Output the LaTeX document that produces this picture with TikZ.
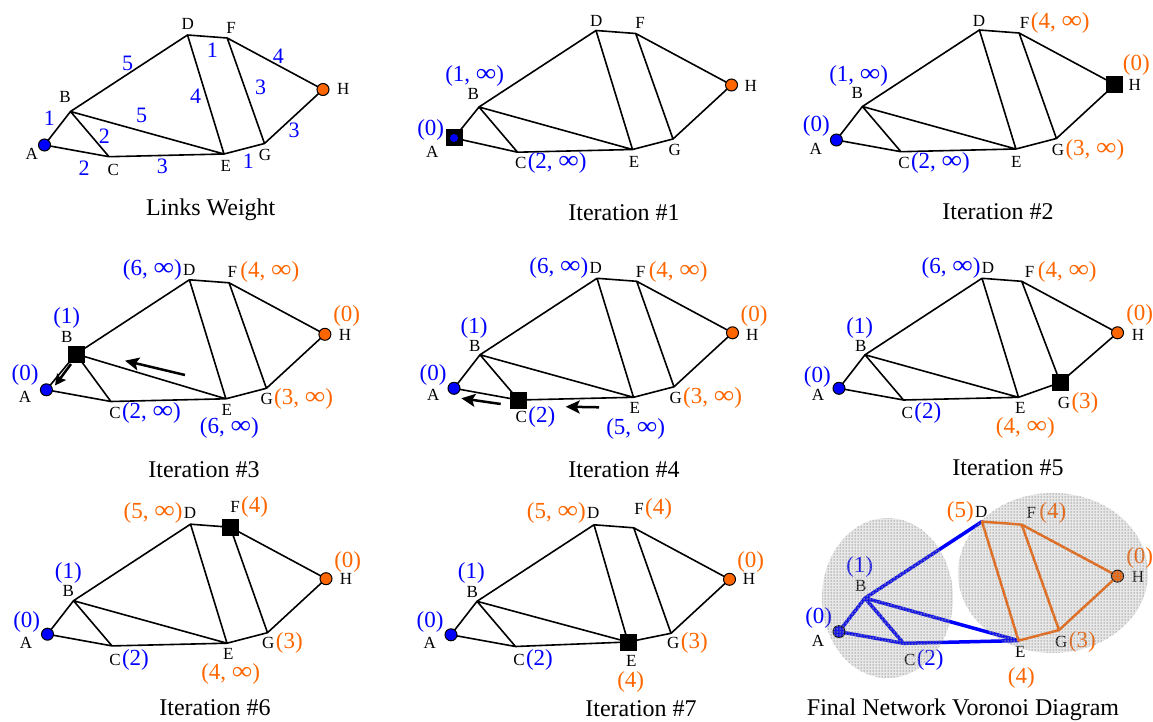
\documentclass[tikz,border=0pt]{standalone}
\usepackage{fontspec}
\setmainfont{Liberation Serif}
\usetikzlibrary{arrows.meta,patterns.meta,calc}
\definecolor{nblue}{RGB}{0,0,255}
\definecolor{norange}{RGB}{255,102,0}
\newcommand\infsym{\scalebox{1.25}[1.1]{∞}}
\newcommand\setgraph[3]{%
 \coordinate (#1A) at (#2,#3);
 \coordinate (#1B) at ($(#1A)+(26,-33.5)$);
 \coordinate (#1C) at ($(#1A)+(64.5,11.7)$);
 \coordinate (#1D) at ($(#1A)+(143,-110)$);
 \coordinate (#1E) at ($(#1A)+(179.5,9)$);
 \coordinate (#1F) at ($(#1A)+(182.7,-107)$);
 \coordinate (#1G) at ($(#1A)+(220,-1.5)$);
 \coordinate (#1H) at ($(#1A)+(278.5,-55.5)$);}
\newcommand\drawedges[2]{%
 \draw[#2] (#1A)--(#1B) (#1A)--(#1C) (#1B)--(#1C) (#1B)--(#1D) (#1B)--(#1E)
   (#1C)--(#1E) (#1D)--(#1F) (#1D)--(#1E) (#1F)--(#1H) (#1F)--(#1G)
   (#1E)--(#1G) (#1G)--(#1H);}
\newcommand\putletters[9]{%
 \node[lbl] (#1lA) at ($(#1A)+(#2)$) {A};
 \node[lbl] (#1lB) at ($(#1B)+(#3)$) {B};
 \node[lbl] (#1lC) at ($(#1C)+(#4)$) {C};
 \node[lbl] (#1lD) at ($(#1D)+(#5)$) {D};
 \node[lbl] (#1lE) at ($(#1E)+(#6)$) {E};
 \node[lbl] (#1lF) at ($(#1F)+(#7)$) {F};
 \node[lbl] (#1lG) at ($(#1G)+(#8)$) {G};
 \node[lbl] (#1lH) at ($(#1H)+(#9)$) {H};}
\tikzset{
 lbl/.style={font=\fontsize{17}{17}\selectfont, inner sep=0pt},
 val/.style={font=\fontsize{23}{23}\selectfont, inner sep=0pt, text=#1},
 wt/.style={font=\fontsize{22}{22}\selectfont, inner sep=0pt, text=nblue},
 captext/.style={font=\fontsize{24}{24}\selectfont, inner sep=0pt},
 aftr/.style={anchor=base west, xshift=1pt},
 befr/.style={anchor=base east, xshift=-1pt},
 edgeline/.style={line width=1.6pt, line cap=round, line join=round},
 src/.style={circle, draw=black, line width=1pt, minimum size=12pt, inner sep=0pt, fill=#1},
 sq/.style={rectangle, fill=black, minimum size=17pt, inner sep=0pt},
 bigarrow/.style={line width=2.5pt, -{Stealth[length=14pt,width=13pt,inset=3pt]}},
 smallarrow/.style={line width=2.5pt, -{Stealth[length=11pt,width=11pt,inset=2pt]}},
 stipple/.style={pattern={Dots[radius=0.75pt, distance=3pt]}, pattern color=gray!80},
}
\begin{document}
\begin{tikzpicture}[x=1pt,y=-1pt]
\useasboundingbox (0,0) rectangle (1153,722);
% ---------- Panel 1: Links Weight
\setgraph{p1}{44.5}{145}
\drawedges{p1}{edgeline}
\node[src=nblue] (p1nA) at (p1A) {};
\node[src=norange] (p1nH) at (p1H) {};
\putletters{p1}{-12.8,9}{-5.5,-14.2}{4.3,13.3}{0.2,-11}{1.7,11.7}{3.8,-9.7}{0.5,11.5}{20.3,-0.2}
\node[wt] (w1) at (49.3,118.3) {1};
\node[wt] (w2) at (127.7,63.3) {5};
\node[wt] (w3) at (212.3,50) {1};
\node[wt] (w4) at (278.3,56.7) {4};
\node[wt] (w5) at (141.7,115) {5};
\node[wt] (w6) at (195.7,96.7) {4};
\node[wt] (w7) at (260.7,87.3) {3};
\node[wt] (w8) at (104.3,136.7) {2};
\node[wt] (w9) at (294,130) {3};
\node[wt] (w10) at (84,168.3) {2};
\node[wt] (w11) at (162.3,166) {3};
\node[wt] (w12) at (248.3,161) {1};
\node[captext] (c1) at (210.7,210) {Links Weight};
% ---------- Panel 2: Iteration #1
\setgraph{p2}{453}{140.5}
\coordinate (p2A) at (454,138);
\drawedges{p2}{edgeline}
\node[sq] (p2sA) at (p2A) {};
\node[circle, fill=nblue, minimum size=8pt, inner sep=0pt] (p2dA) at (p2A) {};
\node[src=norange] (p2nH) at (p2H) {};
\putletters{p2}{-21.7,13.7}{-5.7,-13}{3.2,11.1}{0.3,-9.8}{1.5,12.2}{4.3,-10.8}{1.7,11}{19.2,1}
\node[val=nblue] (p2vB) at (474.7,76) {(1, \infsym)};
\node[val=nblue] (p2vA) at (430.7,130) {(0)};
\node[val=nblue, aftr] (p2vC) at (p2lC.base east) {(2, \infsym)};
\node[captext] (c2) at (624,213) {Iteration \#1};
% ---------- Panel 3: Iteration #2
\setgraph{p3}{836.4}{140}
\drawedges{p3}{edgeline}
\node[src=nblue] (p3nA) at (p3A) {};
\node[sq] (p3sH) at (p3H) {};
\putletters{p3}{-20.7,9}{-5.1,-13.8}{3.1,11.6}{-0.4,-9.3}{0.4,12.7}{5.6,-10.3}{1.6,11.5}{19.8,0.5}
\node[val=nblue] (p3vB) at (858.7,76) {(1, \infsym)};
\node[val=nblue] (p3vA) at (816.3,126) {(0)};
\node[val=nblue, aftr] (p3vC) at (p3lC.base east) {(2, \infsym)};
\node[val=norange, aftr] (p3vF) at (p3lF.base east) {(4, \infsym)};
\node[val=norange] (p3vH) at (1136.3,65) {(0)};
\node[val=norange, aftr] (p3vG) at (p3lG.base east) {(3, \infsym)};
\node[captext] (c3) at (998,212) {Iteration \#2};
% ---------- Panel 4: Iteration #3
\setgraph{p4}{46.4}{389.8}
\coordinate (p4B) at (76,354);
\drawedges{p4}{edgeline}
\node[src=nblue] (p4nA) at (p4A) {};
\node[src=norange] (p4nH) at (p4H) {};
\node[sq] (p4sB) at (p4B) {};
\putletters{p4}{-21.4,6.9}{-9.3,-17.3}{4.1,11.8}{-0.1,-9.8}{0.8,10.8}{3.2,-11.1}{0.3,11}{20.1,0.7}
\node[val=nblue, befr] (p4vD) at (p4lD.base west) {(6, \infsym)};
\node[val=norange, aftr, xshift=2pt] (p4vF) at (p4lF.base east) {(4, \infsym)};
\node[val=nblue] (p4vB) at (66.7,318.3) {(1)};
\node[val=nblue] (p4vA) at (25,375) {(0)};
\node[val=norange] (p4vH) at (346.7,316) {(0)};
\node[val=nblue, aftr] (p4vC) at (p4lC.base east) {(2, \infsym)};
\node[val=nblue] (p4vE) at (229.3,428) {(6, \infsym)};
\node[val=norange, aftr] (p4vG) at (p4lG.base east) {(3, \infsym)};
\coordinate (p4a1s) at (185,375);
\coordinate (p4a1e) at (125,360.7);
\draw[bigarrow] (p4a1s) -- (p4a1e);
\coordinate (p4a2s) at (71,364);
\coordinate (p4a2e) at (55,385.5);
\draw[smallarrow] (p4a2s) -- (p4a2e);
\node[captext] (c4) at (204,470) {Iteration \#3};
% ---------- Panel 5: Iteration #4
\setgraph{p5}{454}{388.3}
\drawedges{p5}{edgeline}
\node[src=nblue] (p5nA) at (p5A) {};
\node[src=norange] (p5nH) at (p5H) {};
\node[sq] (p5sC) at (p5C) {};
\putletters{p5}{-20.7,6.7}{-5.3,-8.8}{2.8,16.7}{-1.3,-10}{1.2,10.8}{4,-9.6}{1.7,11.5}{19.8,2.2}
\node[val=nblue, befr] (p5vD) at (p5lD.base west) {(6, \infsym)};
\node[val=norange, aftr, xshift=2pt] (p5vF) at (p5lF.base east) {(4, \infsym)};
\node[val=nblue] (p5vB) at (474,328.3) {(1)};
\node[val=nblue] (p5vA) at (433,375) {(0)};
\node[val=norange] (p5vH) at (754,316) {(0)};
\node[val=nblue, aftr] (p5vC) at (p5lC.base east) {(2)};
\node[val=nblue] (p5vE) at (635.7,428.5) {(5, \infsym)};
\node[val=norange, aftr] (p5vG) at (p5lG.base east) {(3, \infsym)};
\coordinate (p5a1s) at (500.7,404);
\coordinate (p5a1e) at (461.3,398.3);
\draw[bigarrow] (p5a1s) -- (p5a1e);
\coordinate (p5a2s) at (599,407.3);
\coordinate (p5a2e) at (565.7,406.7);
\draw[bigarrow] (p5a2s) -- (p5a2e);
\node[captext] (c5) at (624,470) {Iteration \#4};
% ---------- Panel 6: Iteration #5
\setgraph{p6}{839}{388.3}
\coordinate (p6G) at (1060.3,382.5);
\drawedges{p6}{edgeline}
\node[src=nblue] (p6nA) at (p6A) {};
\node[src=norange] (p6nH) at (p6H) {};
\node[sq] (p6sG) at (p6G) {};
\putletters{p6}{-21,6.7}{-4.3,-8.8}{3.8,13.3}{6,-10}{1.8,10.8}{8,-9.6}{3.7,20.8}{20.5,2.2}
\node[val=nblue, befr] (p6vD) at (p6lD.base west) {(6, \infsym)};
\node[val=norange, aftr, xshift=2pt] (p6vF) at (p6lF.base east) {(4, \infsym)};
\node[val=nblue] (p6vB) at (859.7,328.3) {(1)};
\node[val=nblue] (p6vA) at (817.3,376.7) {(0)};
\node[val=norange] (p6vH) at (1139.7,315) {(0)};
\node[val=nblue, aftr] (p6vC) at (p6lC.base east) {(2)};
\node[val=norange] (p6vE) at (1025.3,428) {(4, \infsym)};
\node[val=norange, aftr] (p6vG) at (p6lG.base east) {(3)};
\node[captext] (c6) at (1008,468) {Iteration \#5};
% ---------- Panel 7: Iteration #6
\setgraph{p7}{47.5}{634.2}
\drawedges{p7}{edgeline}
\node[src=nblue] (p7nA) at (p7A) {};
\node[src=norange] (p7nH) at (p7H) {};
\node[sq] (p7sF) at (p7F) {};
\putletters{p7}{-21.5,8.5}{-5.2,-9.7}{3,14.1}{-0.5,-10.9}{1.3,10.3}{4.8,-19.9}{0.8,10.6}{20,0.6}
\node[val=norange, befr] (p7vD) at (p7lD.base west) {(5, \infsym)};
\node[val=norange, aftr] (p7vF) at (p7lF.base east) {(4)};
\node[val=nblue] (p7vB) at (68.3,573.3) {(1)};
\node[val=nblue] (p7vA) at (26.7,621.7) {(0)};
\node[val=norange] (p7vH) at (347.7,561.7) {(0)};
\node[val=nblue, aftr] (p7vC) at (p7lC.base east) {(2)};
\node[val=norange] (p7vE) at (230.7,673.5) {(4, \infsym)};
\node[val=norange, aftr] (p7vG) at (p7lG.base east) {(3)};
\node[captext] (c7) at (215,708) {Iteration \#6};
% ---------- Panel 8: Iteration #7
\setgraph{p8}{451}{634.8}
\coordinate (p8E) at (628,642);
\drawedges{p8}{edgeline}
\node[src=nblue] (p8nA) at (p8A) {};
\node[src=norange] (p8nH) at (p8H) {};
\node[sq] (p8sE) at (p8E) {};
\putletters{p8}{-21.3,8.5}{-4.7,-9.6}{3.5,13.5}{-0.7,-11.5}{3.3,19.2}{5.3,-18.5}{2.3,10}{19.5,0}
\node[val=norange, befr] (p8vD) at (p8lD.base west) {(5, \infsym)};
\node[val=norange, aftr] (p8vF) at (p8lF.base east) {(4)};
\node[val=nblue] (p8vB) at (471.3,573.3) {(1)};
\node[val=nblue] (p8vA) at (430,621.7) {(0)};
\node[val=norange] (p8vH) at (750.7,561.7) {(0)};
\node[val=nblue, aftr] (p8vC) at (p8lC.base east) {(2)};
\node[val=norange] (p8vE) at (630.7,682) {(4)};
\node[val=norange, aftr] (p8vG) at (p8lG.base east) {(3)};
\node[captext] (c8) at (641,709) {Iteration \#7};
% ---------- Panel 9: Final Network Voronoi Diagram
\setgraph{p9}{839}{631.6}
\draw[line width=3.5pt, nblue, line cap=round, line join=round]
  (p9A)--(p9B) (p9A)--(p9C) (p9B)--(p9C) (p9B)--(p9D) (p9B)--(p9E) (p9C)--(p9E);
\draw[line width=2.5pt, norange, line cap=round, line join=round]
  (p9D)--(p9F) (p9D)--(p9E) (p9F)--(p9H) (p9F)--(p9G) (p9E)--(p9G) (p9G)--(p9H);
\node[src=nblue] (p9nA) at (p9A) {};
\node[src=norange] (p9nH) at (p9H) {};
\putletters{p9}{-21,9.4}{-4.3,-12.1}{6.2,16.7}{-0.7,-9.9}{1.8,11.7}{9.6,-11.3}{2.3,11.6}{20.5,0.6}
\node[val=norange, befr] (p9vD) at (p9lD.base west) {(5)};
\node[val=norange, aftr, xshift=2pt] (p9vF) at (p9lF.base east) {(4)};
\node[val=nblue] (p9vB) at (859.7,566.7) {(1)};
\node[val=nblue] (p9vA) at (818.7,618.3) {(0)};
\node[val=norange] (p9vH) at (1139.7,558.3) {(0)};
\node[val=nblue, aftr] (p9vC) at (p9lC.base east) {(2)};
\node[val=norange] (p9vE) at (1021.3,677.5) {(4)};
\node[val=norange, aftr] (p9vG) at (p9lG.base east) {(3)};
\fill[gray, fill opacity=0.18] (887.5,598) ellipse [x radius=65.5, y radius=80];
\fill[gray, fill opacity=0.18] (1053,573) ellipse [x radius=95, y radius=80];
\fill[stipple] (887.5,598) ellipse [x radius=65.5, y radius=80];
\fill[stipple] (1053,573) ellipse [x radius=95, y radius=80];
\node[captext] (c9) at (963,710) {Final Network Voronoi Diagram};
\end{tikzpicture}
\end{document}
